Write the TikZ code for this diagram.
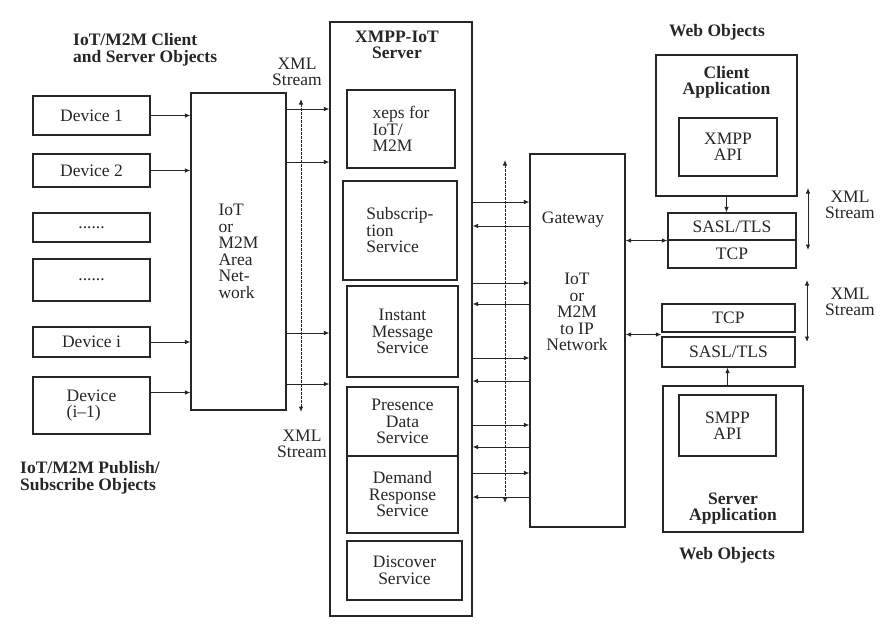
\documentclass[tikz,border=0pt]{standalone}
\usepackage{fontspec}
\setmainfont{Liberation Serif}
\usetikzlibrary{arrows.meta,positioning,calc}
\definecolor{ink}{HTML}{262626}
\newcommand\figfont{\fontsize{17.5}{16.5}\selectfont}
\tikzset{
  plainbox/.style={draw=ink, line width=1.1pt, inner sep=0pt, align=center, text=ink},
  devbox/.style={plainbox, minimum width=117pt},
  svcbox/.style={plainbox, minimum width=111pt},
  layerbox/.style={plainbox, minimum width=130pt},
  lbl/.style={inner sep=0pt, align=center, text=ink},
  boldlbl/.style={lbl, font=\figfont\bfseries},
  arr/.style={-{Latex[length=5.5pt,width=4.5pt]}, line width=0.9pt, color=ink},
  darr/.style={{Latex[length=5.5pt,width=4.5pt]}-{Latex[length=5.5pt,width=4.5pt]}, line width=0.9pt, color=ink},
  dotarr/.style={darr, dash pattern=on 2.5pt off 1.5pt}}

\begin{document}
\begin{tikzpicture}[x=1pt, y=-1pt, font=\figfont]
  \useasboundingbox (0,0) rectangle (881,630);
  % group headings
  \node[boldlbl, align=left, anchor=west] (hclient) at (73,50) {IoT/M2M Client\\and Server Objects};
  \node[boldlbl, align=left, anchor=west] (hpub) at (20,478) {IoT/M2M Publish/\\Subscribe Objects};
  \node[boldlbl] (hwebtop) at (717,32) {Web Objects};
  \node[boldlbl] (hwebbot) at (727,555) {Web Objects};

  % devices and area network
  \node[devbox, minimum height=39pt] (dev1) at (91.5,115.5) {Device 1};
  \node[devbox, minimum height=33pt] (dev2) at (91.5,170.5) {Device 2};
  \node[devbox, minimum height=29pt] (dots1) at (91.5,227.5) {......};
  \node[devbox, minimum height=42pt] (dots2) at (91.5,280) {......};
  \node[devbox, minimum height=30pt] (devi) at (91.5,342) {Device i};
  \node[devbox, minimum height=57pt, align=left] (devj) at (91.5,405.5) {Device\\(i--1)};
  \node[plainbox, minimum width=95pt, minimum height=317pt, align=left] (anet) at (238.5,251.5)
    {IoT\\or\\M2M\\Area\\Net-\\work};
  \draw[arr] (dev1.east) -- (dev1.east -| anet.west);
  \draw[arr] (dev2.east) -- (dev2.east -| anet.west);
  \draw[arr] (devi.east) -- (devi.east -| anet.west);
  \draw[arr] ([yshift=13pt]devj.east) -- ([yshift=13pt]devj.east -| anet.west);

  % XMPP-IoT server
  \node[plainbox, minimum width=142pt, minimum height=594pt] (srv) at (401,319) {};
  \node[boldlbl] (srvtitle) at (397,45) {XMPP-IoT\\Server};
  \node[svcbox, minimum width=108pt, minimum height=78pt, align=left] (xeps) at (401,129) {xeps for\\IoT/\\M2M};
  \node[svcbox, minimum width=114pt, minimum height=99pt, align=left] (subs) at (400,230.5) {Subscrip-\\tion\\Service};
  \node[svcbox, minimum height=91pt] (inst) at (402.5,331.5) {Instant\\Message\\Service};
  \node[svcbox, minimum height=69pt] (pres) at (402.5,421.5) {Presence\\Data\\Service};
  \node[svcbox, minimum height=77pt] (dem) at (402.5,494.5) {Demand\\Response\\Service};
  \node[svcbox, minimum width=115pt, minimum height=59pt] (disc) at (404.5,570.5) {Discover\\Service};
  \foreach \y in {109,162,333,384}
    \draw[arr] (anet.east |- 0,\y) -- (srv.west |- 0,\y);

  % XML stream between area network and server
  \coordinate (lstop) at (301,99);
  \coordinate (lsbot) at (301,412);
  \draw[dotarr] (lstop) -- (lsbot);
  \node[lbl] (lstoplbl) at (297,72) {XML\\Stream};
  \node[lbl] (lsbotlbl) at (302,444) {XML\\Stream};

  % gateway
  \node[plainbox, minimum width=95pt, minimum height=373pt] (gw) at (577.5,340.5) {};
  \node[lbl] (gwname) at (573,220) {Gateway};
  \node[lbl] (gwnet) at (577,312) {IoT\\or\\M2M\\to IP\\Network};
  \foreach \y in {202,283,358,425,473}
    \draw[arr] (srv.east |- 0,\y) -- (gw.west |- 0,\y);
  \foreach \y in {226,304,381,447,497}
    \draw[arr] (gw.west |- 0,\y) -- (srv.east |- 0,\y);
  \coordinate (gstop) at (505,160);
  \coordinate (gsbot) at (505,503);
  \draw[dotarr] (gstop) -- (gsbot);

  % client web object
  \node[plainbox, minimum width=141pt, minimum height=141pt] (capp) at (726.5,125.5) {};
  \node[boldlbl] (capptitle) at (726.5,82.5) {Client\\Application};
  \node[plainbox, minimum width=98pt, minimum height=58pt] (xapi) at (728,147) {XMPP\\API};
  \node[layerbox, minimum width=128pt, minimum height=27pt] (sasl1) at (732,226.5) {SASL/TLS};
  \node[layerbox, minimum width=128pt, minimum height=28pt] (tcp1) at (732,254) {TCP};
  \draw[arr] (capp.south) -- (capp.south |- sasl1.north);
  \draw[darr] (gw.east |- sasl1.south west) -- (sasl1.south west);
  \coordinate (r1top) at (808,188);
  \coordinate (r1bot) at (808,250);
  \draw[darr] (r1top) -- (r1bot);
  \node[lbl] (r1lbl) at (850,205) {XML\\Stream};

  % server web object
  \node[layerbox, minimum width=133pt, minimum height=28pt] (tcp2) at (728.5,318) {TCP};
  \node[layerbox, minimum width=133pt, minimum height=30pt] (sasl2) at (728.5,352) {SASL/TLS};
  \coordinate (gap2) at ($(tcp2.south west)!0.5!(sasl2.north west)$);
  \draw[darr] (gw.east |- gap2) -- (gap2);
  \coordinate (r2top) at (807,280);
  \coordinate (r2bot) at (807,342);
  \draw[darr] (r2top) -- (r2bot);
  \node[lbl] (r2lbl) at (850,302) {XML\\Stream};
  \node[plainbox, minimum width=140pt, minimum height=146pt] (sapp) at (733,459) {};
  \node[plainbox, minimum width=97pt, minimum height=61pt] (sapi) at (727.5,425.5) {SMPP\\API};
  \node[boldlbl] (sapptitle) at (733,508.5) {Server\\Application};
  \draw[arr] (sapi.north |- sapp.north) -- (sapi.north |- sasl2.south);
\end{tikzpicture}
\end{document}
